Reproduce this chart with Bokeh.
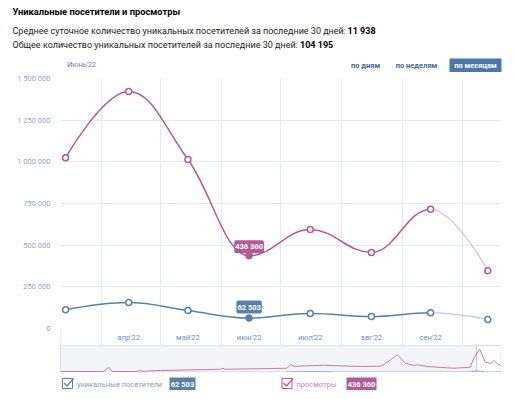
import pandas as pd
from bokeh.plotting import figure
from bokeh.layouts import column
from bokeh.models import Range1d, FixedTicker, Label
from bokeh.core.properties import value
from bokeh.embed import file_html
from bokeh.resources import INLINE

# ---------------- data ----------------
TITLE = "Уникальные посетители и просмотры"
STAT_LABELS = [
    "Среднее суточное количество уникальных посетителей за последние 30 дней:",
    "Общее количество уникальных посетителей за последние 30 дней:",
]
STAT_VALUES = [11938, 104195]
PERIOD_BUTTONS = ["по дням", "по неделям", "по месяцам"]
HOVER_MONTH = "Июнь'22"

POINT_DATES = ["2022-03-14", "2022-04-15", "2022-05-15", "2022-06-15",
               "2022-07-16", "2022-08-16", "2022-09-15", "2022-10-14"]
VIEWS = [1025000, 1422000, 1014000, 436360, 594000, 456000, 716000, 347000]
VISITORS = [112000, 156000, 108000, 62503, 90000, 72000, 94000, 54000]
MONTH_LABELS = ["апр'22", "май'22", "июн'22", "июл'22", "авг'22", "сен'22"]
LABELED_POINTS = [1, 2, 3, 4, 5, 6]
HIGHLIGHT = 3
Y_TICKS = [0, 250000, 500000, 750000, 1000000, 1250000, 1500000]
MONTH_STARTS = ["2022-04-01", "2022-05-01", "2022-06-01", "2022-07-01",
                "2022-08-01", "2022-09-01", "2022-10-01"]
RANGE_START = "2022-03-11 10:00"
RANGE_END = "2022-10-20 10:00"

# navigator (weekly history)
NAV_WEEKS_VIEWS = [0, 54, 60, 65, 96, 99, 102, 125, 200, 203, 206, 283, 288, 292,
                   329, 375, 400, 404, 406, 421, 431, 442, 446, 458, 492, 512,
                   517, 524, 531, 538, 542, 546, 551]
NAV_VIEWS = [4, 4, 21, 4, 4, 9, 5, 8, 13, 17, 13, 17, 32, 25,
             29, 24, 25, 32, 35, 71, 37, 28, 31, 24, 17, 21,
             59, 93, 41, 37, 48, 35, 27]
NAV_WEEKS_VISITORS = [280, 300, 334, 344, 512, 520, 525, 531, 551]
NAV_VISITORS = [1, 3, 3, 1, 1, 7, 5, 2, 2]
NAV_WINDOW = [520, 551]

LEGEND_NAMES = ["уникальные посетители", "просмотры"]

# ---------------- style ----------------
FONT = value("Roboto")
PINK = "#b25b96"
BLUE = "#5b80a8"
GRID = "#e4e8ed"
TICK_TXT = "#8fa4c2"
W = 515
BL, BR = 60, 15          # common left / right borders -> frames at x 60..500


def fmt(v):
    return f"{v:,}".replace(",", " ")


def day(s):
    return (pd.Timestamp(s) - pd.Timestamp("2022-01-01")) / pd.Timedelta(days=1)


def spline(xs, ys, smoothing=1.5):
    n = len(xs)
    denom = smoothing + 1
    left = [[xs[i], ys[i]] for i in range(n)]
    right = [[xs[i], ys[i]] for i in range(n)]
    for i in range(1, n - 1):
        lx, ly = xs[i - 1], ys[i - 1]
        nx, ny = xs[i + 1], ys[i + 1]
        X, Y = xs[i], ys[i]
        lcx = (smoothing * X + lx) / denom
        lcy = (smoothing * Y + ly) / denom
        rcx = (smoothing * X + nx) / denom
        rcy = (smoothing * Y + ny) / denom
        if rcx != lcx:
            corr = ((rcy - lcy) * (rcx - X)) / (rcx - lcx) + Y - rcy
            lcy += corr
            rcy += corr
        if lcy > ly and lcy > Y:
            lcy = max(ly, Y); rcy = 2 * Y - lcy
        elif lcy < ly and lcy < Y:
            lcy = min(ly, Y); rcy = 2 * Y - lcy
        if rcy > ny and rcy > Y:
            rcy = max(ny, Y); lcy = 2 * Y - rcy
        elif rcy < ny and rcy < Y:
            rcy = min(ny, Y); lcy = 2 * Y - rcy
        left[i] = [lcx, lcy]
        right[i] = [rcx, rcy]
    return dict(
        x0=xs[:-1], y0=ys[:-1], x1=xs[1:], y1=ys[1:],
        cx0=[right[i][0] for i in range(n - 1)], cy0=[right[i][1] for i in range(n - 1)],
        cx1=[left[i + 1][0] for i in range(n - 1)], cy1=[left[i + 1][1] for i in range(n - 1)],
        alpha=[1.0] * (n - 2) + [0.35],
    )


def bare(fig):
    fig.grid.visible = False
    fig.outline_line_color = None
    return fig


px = [day(d) for d in POINT_DATES]
starts = [day(d) for d in MONTH_STARTS]
x_start, x_end = day(RANGE_START), day(RANGE_END)

# ---------------- header (page pixel coordinates, full-width frame) ----------------
h = bare(figure(width=W, height=72, x_range=Range1d(0, W), y_range=Range1d(72, 0),
                x_axis_type=None, y_axis_type=None, toolbar_location=None,
                output_backend="svg", min_border=0))
h.text(x=[12], y=[10.5], text=[TITLE], text_font=FONT, text_font_size="9.3px",
       text_font_style="bold", text_color="#000000", text_baseline="middle")
h.text(x=[12, 12], y=[30, 44.5], text=STAT_LABELS, text_font=FONT, text_font_size="9px",
       text_color="#222222", text_baseline="middle")
h.text(x=[347, 299.5], y=[30, 44.5], text=[fmt(v) for v in STAT_VALUES], text_font=FONT,
       text_font_size="9px", text_font_style="bold", text_color="#000000",
       text_baseline="middle")
h.quad(left=[449], right=[501], bottom=[72], top=[58], fill_color="#4b77a9", line_color=None)
h.text(x=[365, 416, 475], y=[65, 65, 65], text=PERIOD_BUTTONS, text_font=FONT,
       text_font_size="7.5px", text_font_style="bold",
       text_color=["#45688e", "#45688e", "#ffffff"], text_align="center",
       text_baseline="middle")
h.text(x=[81], y=[63.5], text=[HOVER_MONTH], text_font=FONT, text_font_size="7.5px",
       text_color="#6a80c0", text_align="center", text_baseline="middle")

# ---------------- main chart ----------------
p = figure(width=W, height=273, x_range=Range1d(x_start, x_end),
           y_range=Range1d(0, 1500000), output_backend="svg", toolbar_location=None,
           min_border_left=BL, min_border_right=BR, min_border_top=6, min_border_bottom=17)
p.outline_line_color = None
p.background_fill_color = "#ffffff"

yax = p.yaxis[0]
yax.ticker = FixedTicker(ticks=Y_TICKS)
yax.major_label_overrides = {t: fmt(t) for t in Y_TICKS}
yax.axis_line_color = None
yax.major_tick_line_color = None
yax.minor_tick_line_color = None
yax.major_label_standoff = 4
yax.major_label_text_font = "Roboto"
yax.major_label_text_font_size = "7.5px"
yax.major_label_text_color = TICK_TXT

xax = p.xaxis[0]
xax.ticker = FixedTicker(ticks=[px[i] for i in LABELED_POINTS],
                         minor_ticks=[x_start] + starts)
xax.major_label_overrides = {px[i]: lab for i, lab in zip(LABELED_POINTS, MONTH_LABELS)}
xax.axis_line_color = None
xax.major_tick_line_color = None
xax.minor_tick_in = 0
xax.minor_tick_out = 17
xax.minor_tick_line_color = GRID
xax.major_label_standoff = -13
xax.major_label_text_font = "Roboto"
xax.major_label_text_font_size = "7.5px"
xax.major_label_text_color = "#6d8fbf"

p.ygrid.ticker = FixedTicker(ticks=Y_TICKS)
p.ygrid.grid_line_color = GRID
p.xgrid.ticker = FixedTicker(ticks=[x_start] + starts)
p.xgrid.grid_line_color = GRID

for ys, col in ((VIEWS, PINK), (VISITORS, BLUE)):
    s = spline(px, ys)
    p.bezier(x0="x0", y0="y0", x1="x1", y1="y1", cx0="cx0", cy0="cy0", cx1="cx1",
             cy1="cy1", line_alpha="alpha", line_color=col, line_width=1.5, source=s)
    fills = ["#ffffff"] * len(ys)
    fills[HIGHLIGHT] = col
    p.scatter(px, ys, size=6, fill_color=fills, line_color=col, line_width=1.5)

for ys, col, off in ((VIEWS, PINK, 9), (VISITORS, BLUE, 11)):
    p.add_layout(Label(x=px[HIGHLIGHT], y=ys[HIGHLIGHT], text=fmt(ys[HIGHLIGHT]),
                       y_offset=off, text_align="center", text_baseline="middle",
                       text_font="Roboto", text_font_size="7.5px", text_font_style="bold",
                       text_color="#ffffff", background_fill_color=col,
                       padding=(1, 2), border_radius=2))

# ---------------- navigator ----------------
nv = figure(width=W, height=27, x_range=Range1d(0, 550), y_range=Range1d(0, 108),
            x_axis_type=None, y_axis_type=None, toolbar_location=None, output_backend="svg",
            min_border_left=BL, min_border_right=BR, min_border_top=0, min_border_bottom=0)
nv.grid.visible = False
nv.background_fill_color = "#f2f4f7"
nv.outline_line_color = "#dde2e8"
nv.quad(left=[NAV_WINDOW[0]], right=[NAV_WINDOW[1]], bottom=[0], top=[108],
        fill_color="#ffffff", line_color="#c8d0da")
nv.line(NAV_WEEKS_VISITORS, NAV_VISITORS, line_color="#8aa4c2", line_width=1)
nv.line(NAV_WEEKS_VIEWS, NAV_VIEWS, line_color="#c77aae", line_width=1)

# ---------------- legend (page pixel coordinates) ----------------
lg = bare(figure(width=W, height=27, x_range=Range1d(BL, W - BR), y_range=Range1d(399, 372),
                 x_axis_type=None, y_axis_type=None, toolbar_location=None,
                 output_backend="svg", min_border_left=BL, min_border_right=BR,
                 min_border_top=0, min_border_bottom=0))
for cx, col, name, txtcol, bl, br, val in (
        (67, BLUE, LEGEND_NAMES[0], "#8c9cb3", 169, 195, VISITORS[HIGHLIGHT]),
        (286.5, PINK, LEGEND_NAMES[1], "#c28db4", 346, 376, VIEWS[HIGHLIGHT])):
    lg.scatter([cx], [383], marker="square", size=10, fill_color="#ffffff",
               line_color=col, line_width=1)
    lg.line([cx - 3.5, cx - 0.5, cx + 6], [382.5, 385.5, 378], line_color=col, line_width=1.2)
    lg.text([cx + 9.5], [383.5], text=[name], text_font=FONT, text_font_size="7.5px",
            text_color=txtcol, text_baseline="middle")
    lg.quad(left=[bl], right=[br], top=[377], bottom=[389.5], fill_color=col, line_color=None)
    lg.text([(bl + br) / 2], [383.5], text=[fmt(val)], text_font=FONT,
            text_font_size="7.5px", text_font_style="bold", text_color="#ffffff",
            text_align="center", text_baseline="middle")

layout = column(h, column(p, nv, lg, spacing=0), spacing=0)
open("out.html", "w").write(file_html(layout, INLINE))
